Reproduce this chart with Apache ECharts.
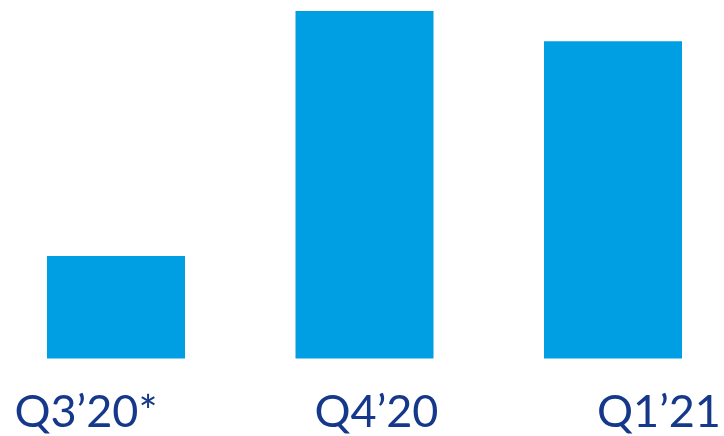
<!DOCTYPE html>
<html>
<head>
<meta charset="utf-8">
<script src="https://cdn.jsdelivr.net/npm/echarts@6/dist/echarts.min.js"></script>
<style>
  html, body { margin: 0; padding: 0; background: #ffffff; }
  #chart { width: 724px; height: 436px; }
</style>
</head>
<body>
<div id="chart"></div>
<script>
// Quarterly values (index, Q4'20 = 100)
const quarters = ["Q3\u201920*", "Q4\u201920", "Q1\u201921"];
const values = [29.5, 100, 91.3];
// Horizontal nudge of each quarter label relative to its bar
const labelShift = ["left30", "right12", "right46"];

const chart = echarts.init(document.getElementById('chart'));

const labelFont = { color: '#15388b', fontFamily: 'Lato', fontSize: 45 };
const richStyles = {
  left30:  { padding: [0, 60, 0, 0] },
  right12: { padding: [0, 0, 0, 24] },
  right46: { padding: [0, 0, 0, 92] }
};

chart.setOption({
  animation: false,
  grid: {
    left: -8.25, width: 745.5, top: 11, bottom: 77.5,
    containLabel: false,
    outerBoundsMode: 'none'
  },
  xAxis: {
    type: 'category',
    data: quarters,
    axisLine: { show: false },
    axisTick: { show: false },
    axisLabel: Object.assign({
      interval: 0,
      margin: 31,
      formatter: (v, i) => '{' + labelShift[i] + '|' + v + '}',
      rich: Object.fromEntries(Object.entries(richStyles).map(([k, s]) => [k, Object.assign({}, labelFont, s)]))
    }, labelFont)
  },
  yAxis: {
    type: 'value',
    min: 0,
    max: 100,
    show: false,
    splitLine: { show: false }
  },
  series: [{
    type: 'bar',
    data: values,
    barWidth: 138,
    itemStyle: { color: '#009fe3' }
  }]
});
</script>
</body>
</html>
